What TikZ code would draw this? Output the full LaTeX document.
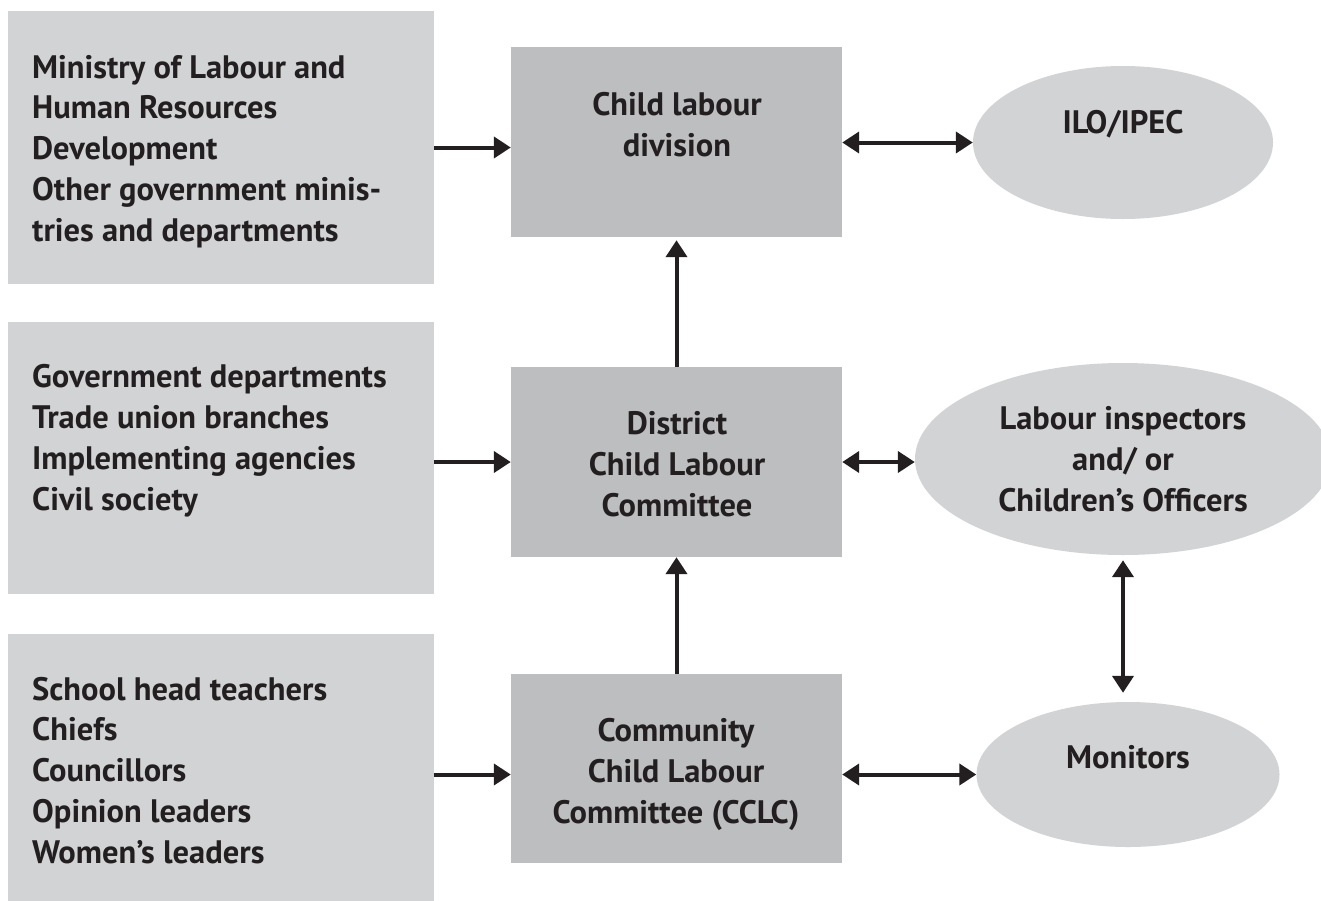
\documentclass[tikz,border=0pt]{standalone}
\usepackage{fontspec}
\setmainfont{PT Sans}
\usetikzlibrary{arrows.meta,shapes.geometric}
\definecolor{lightbox}{HTML}{D1D3D4}
\definecolor{midbox}{HTML}{BCBEC0}
\definecolor{ink}{HTML}{231F20}
\begin{document}
\begin{tikzpicture}[x=1pt,y=-1pt,
  srcbox/.style={fill=lightbox,draw=none,inner sep=0pt},
  midnode/.style={fill=midbox,draw=none,inner sep=0pt,minimum width=331pt},
  ovalnode/.style={ellipse,fill=lightbox,draw=none,inner sep=0pt},
  txt/.style={text=ink,font=\bfseries\fontsize{32.5}{40.7}\selectfont,inner sep=0pt},
  ltxt/.style={txt,align=left,anchor=base west},
  ctxt/.style={txt,align=center,anchor=base},
  tip/.tip={Triangle[length=17pt,width=21pt]},
  arr/.style={draw=ink,line width=4pt,-tip},
  darr/.style={draw=ink,line width=4pt,tip-tip}]
\useasboundingbox (0,0) rectangle (1321,900);
\begin{scope}
\clip (0,0) rectangle (1321,900);
% source boxes
\node[srcbox,minimum width=426pt,minimum height=273pt] (b1) at (221,147.5) {};
\node[srcbox,minimum width=426pt,minimum height=272pt] (b2) at (221,458) {};
\node[srcbox,minimum width=426pt,minimum height=270pt] (b3) at (221,769) {};
% middle boxes
\node[midnode,minimum height=190pt] (a) at (676.5,142) {};
\node[midnode,minimum height=190pt] (d) at (676.5,462) {};
\node[midnode,minimum height=189pt] (c) at (676.5,768.5) {};
% ellipses
\node[ovalnode,minimum width=300pt,minimum height=153pt] (ilo) at (1123,142.5) {};
\node[ovalnode,minimum width=416pt,minimum height=192pt] (li) at (1123,459) {};
\node[ovalnode,minimum width=303pt,minimum height=145pt] (m) at (1128,774.5) {};
\end{scope}
% texts
\node[ltxt] (t1) at (32,241) {Ministry of Labour and\\Human Resources\\Development\\Other government minis-\\tries and departments};
\node[ltxt] (t2) at (32,510) {Government departments\\Trade union branches\\Implementing agencies\\Civil society};
\node[ltxt] (t3) at (32,863) {School head teachers\\Chiefs\\Councillors\\Opinion leaders\\Women’s leaders};
\node[ctxt] (ta) at (677,156) {Child labour\\division};
\node[ctxt] (td) at (677,516) {District\\Child Labour\\Committee};
\node[ctxt] (tc) at (676,823) {Community\\Child Labour\\Committee (CCLC)};
\node[ctxt] (tilo) at (1123,133) {ILO/IPEC};
\node[ctxt] (tli) at (1123,511) {Labour inspectors\\and/ or\\Children’s Officers};
\node[ctxt] (tm) at (1128,768) {Monitors};
% connectors
\draw[arr] (b1.east) -- (b1.east -| a.west);
\draw[arr] (b2.east |- d.west) -- (d.west);
\draw[arr] (b3.east |- m.west) -- (c.west |- m.west);
\draw[darr] (a.east |- ilo.west) -- (ilo.west);
\draw[darr] (d.east) -- (d.east -| li.west);
\draw[darr] (c.east |- m.west) -- (m.west);
\draw[arr,shorten >=3pt] (d.north) -- (a.south);
\draw[arr] (c.north) -- (d.south);
\draw[darr,shorten <=5pt,shorten >=9pt] (li.south) -- (li.south |- m.north);
\end{tikzpicture}
\end{document}
